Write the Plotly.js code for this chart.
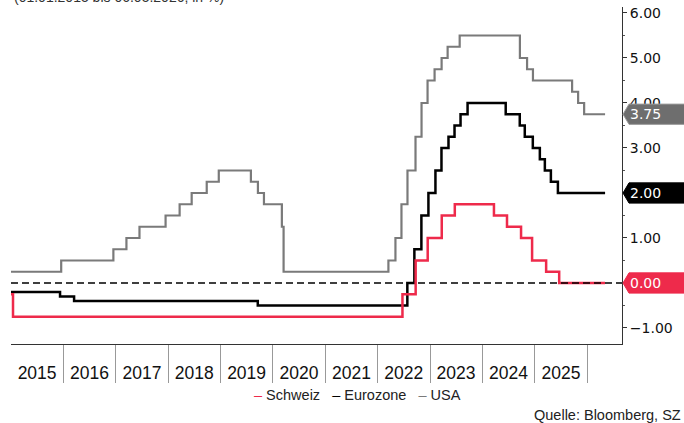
<!DOCTYPE html>
<html>
<head>
<meta charset="utf-8">
<script src="https://cdn.plot.ly/plotly-3.0.1.min.js"></script>
<style>html,body{margin:0;padding:0;background:#fff;}#chart{width:684px;height:423px;}</style>
</head>
<body>
<div id="chart"></div>
<script>
// ---- data ----
const seriesNames = ['Schweiz', 'Eurozone', 'USA'];
const seriesColors = ['#ee2a4b', '#000000', '#7a7a7a'];

const chDates = ['2015-01-01','2015-01-15','2022-06-23','2022-09-23','2022-12-16','2023-03-24','2023-06-23','2024-03-22','2024-06-21','2024-09-27','2024-12-13','2025-03-21','2025-06-20','2026-05-06'];
const chVals  = [-0.25,-0.75,-0.25,0.5,1.0,1.5,1.75,1.5,1.25,1.0,0.5,0.25,0.0,0.0];

const euDates = ['2015-01-01','2015-12-09','2016-03-16','2019-09-18','2022-07-27','2022-09-14','2022-11-02','2022-12-21','2023-02-08','2023-03-22','2023-05-10','2023-06-21','2023-08-02','2023-09-20','2024-06-12','2024-09-18','2024-10-23','2024-12-18','2025-02-05','2025-03-12','2025-04-23','2025-06-11','2026-05-06'];
const euVals  = [-0.2,-0.3,-0.4,-0.5,0.0,0.75,1.5,2.0,2.5,3.0,3.25,3.5,3.75,4.0,3.75,3.5,3.25,3.0,2.75,2.5,2.25,2.0,2.0];

const usDates = ['2015-01-01','2015-12-17','2016-12-15','2017-03-16','2017-06-15','2017-12-14','2018-03-22','2018-06-14','2018-09-27','2018-12-20','2019-08-01','2019-09-19','2019-10-31','2020-03-04','2020-03-16','2022-03-17','2022-05-05','2022-06-16','2022-07-28','2022-09-22','2022-11-03','2022-12-15','2023-02-02','2023-03-23','2023-05-04','2023-07-27','2024-09-19','2024-11-08','2024-12-19','2025-09-18','2025-10-30','2025-12-11','2026-05-06'];
const usVals  = [0.25,0.5,0.75,1.0,1.25,1.5,1.75,2.0,2.25,2.5,2.25,2.0,1.75,1.25,0.25,0.5,1.0,1.75,2.5,3.25,4.0,4.5,4.75,5.0,5.25,5.5,5.0,4.75,4.5,4.25,4.0,3.75,3.75];

const yearLabels = ['2015','2016','2017','2018','2019','2020','2021','2022','2023','2024','2025'];
const yTickVals = [-1, 0, 1, 2, 3, 4, 5, 6];

const titleText = '(01.01.2015 bis 06.05.2026, in %)';
const sourceText = 'Quelle: Bloomberg, SZ';

// ---- build ----
const NARROW = 'Liberation Sans Narrow, Arial Narrow, Liberation Sans, sans-serif';
const TICKF = 'DejaVu Sans, Verdana, sans-serif';
const xRange = ['2015-01-01', '2026-09-01'];
const yRange = [-1.356, 6.133];
const plotW = 611, plotH = 337;

const allDates = [chDates, euDates, usDates];
const allVals = [chVals, euVals, usVals];
const widths = [2.5, 2.5, 2.2];

const traces = seriesNames.map((n, i) => ({
  type: 'scatter', mode: 'lines', name: n,
  x: allDates[i], y: allVals[i],
  line: {shape: 'hv', color: seriesColors[i], width: widths[i]},
  showlegend: false, hoverinfo: 'skip'
}));
const ordered = [traces[2], traces[1], traces[0]];

const sepVals = yearLabels.slice(1).map(y => y + '-01-01').concat([(parseInt(yearLabels[yearLabels.length-1]) + 1) + '-01-01']);
const midVals = yearLabels.map(y => y + '-07-02');

const shapes = [{
  type: 'line', xref: 'paper', yref: 'y', x0: 0, x1: 1, y0: 0, y1: 0,
  line: {color: '#000', width: 1.5, dash: '7px,4px'}, layer: 'above'
}];
const annotations = [];
const boxFill = {'Schweiz': '#ee2a4b', 'Eurozone': '#000000', 'USA': '#6e6e6e'};
const boxLine = {'Schweiz': '#ee2a4b', 'Eurozone': '#000000', 'USA': '#9a9a9a'};
const px = p => 1 + p / plotW;
seriesNames.forEach((n, i) => {
  const v = allVals[i][allVals[i].length - 1];
  const h = 0.225;
  shapes.push({
    type: 'path', xref: 'paper', yref: 'y', layer: 'above',
    path: `M ${px(1)} ${v} L ${px(7)} ${v + h} L ${px(70)} ${v + h} L ${px(70)} ${v - h} L ${px(7)} ${v - h} Z`,
    fillcolor: boxFill[n], line: {color: boxLine[n], width: 1}
  });
  annotations.push({
    xref: 'paper', yref: 'y', x: px(6), y: v, xanchor: 'left', yanchor: 'middle',
    text: v.toFixed(2), showarrow: false,
    font: {family: TICKF, size: 14, color: '#ffffff'}
  });
});

annotations.push({
  xref: 'paper', yref: 'paper', x: 1 / plotW, y: 1, xanchor: 'left', yanchor: 'bottom', yshift: 0,
  text: titleText, showarrow: false, font: {family: 'Liberation Sans, Arial, sans-serif', size: 14, color: '#333'}
});
annotations.push({
  xref: 'paper', yref: 'paper', x: (683 - 11) / plotW, y: -(415 - 344) / plotH, xanchor: 'right', yanchor: 'middle',
  text: sourceText, showarrow: false, font: {family: NARROW, size: 14.5, color: '#222'}
});
const legendText = seriesNames.map((n, i) => `<span style="color:${seriesColors[i]}">–</span> ${n}`).join('   ');
annotations.push({
  xref: 'paper', yref: 'paper', x: (357 - 11) / plotW, y: -(395 - 344) / plotH, xanchor: 'center', yanchor: 'middle',
  text: legendText, showarrow: false, font: {family: NARROW, size: 14.5, color: '#222'}
});

const layout = {
  width: 684, height: 423,
  margin: {l: 11, r: 62, t: 7, b: 79, pad: 0},
  paper_bgcolor: '#fff', plot_bgcolor: '#fff',
  showlegend: false,
  xaxis: {
    type: 'date', range: xRange, showgrid: false, zeroline: false,
    showline: true, linecolor: '#333', linewidth: 1,
    tickmode: 'array', tickvals: sepVals, ticks: 'outside', ticklen: 38, tickcolor: '#999', tickwidth: 1,
    showticklabels: false, fixedrange: true
  },
  xaxis2: {
    type: 'date', range: xRange, overlaying: 'x', anchor: 'y', side: 'bottom',
    showgrid: false, zeroline: false, showline: false, ticks: '',
    tickmode: 'array', tickvals: midVals, ticktext: yearLabels,
    tickfont: {family: NARROW, size: 17.5, color: '#111'}, ticklabelstandoff: 16, fixedrange: true
  },
  yaxis: {
    range: yRange, side: 'right', showgrid: false, zeroline: false,
    showline: true, linecolor: '#333', linewidth: 1,
    tickmode: 'array', tickvals: yTickVals, tickformat: '.2f',
    ticks: 'outside', ticklen: 4, tickcolor: '#333',
    minor: {dtick: 0.5, tick0: 0, ticks: 'outside', ticklen: 2, tickcolor: '#555', showgrid: false},
    tickfont: {family: TICKF, size: 14, color: '#111'}, fixedrange: true
  },
  shapes: shapes,
  annotations: annotations
};
ordered.push({type: 'scatter', mode: 'markers', x: [xRange[0]], y: [null], xaxis: 'x2', yaxis: 'y', showlegend: false, hoverinfo: 'skip'});

Plotly.newPlot('chart', ordered, layout, {staticPlot: true, displayModeBar: false});
</script>
</body>
</html>
